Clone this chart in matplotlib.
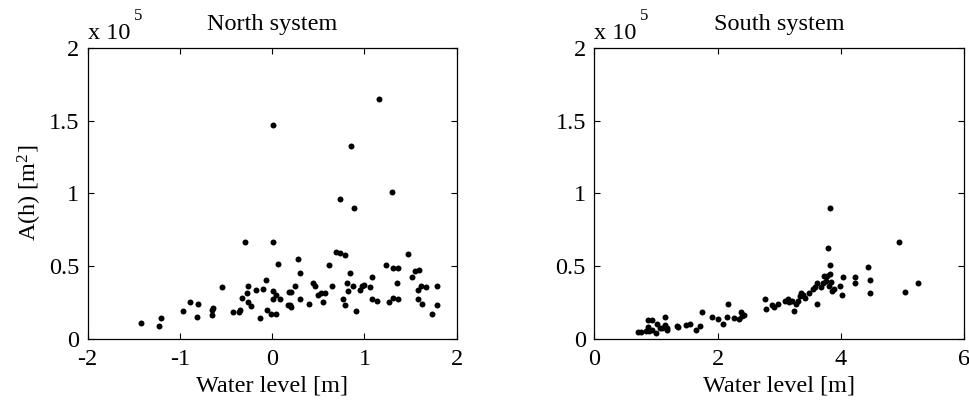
import matplotlib
matplotlib.use("Agg")
import matplotlib.pyplot as plt
from matplotlib.transforms import offset_copy

plt.rcParams["font.family"] = ["Liberation Serif", "DejaVu Serif"]
plt.rcParams["mathtext.fontset"] = "custom"
plt.rcParams["mathtext.rm"] = "Liberation Serif"
plt.rcParams["mathtext.it"] = "Liberation Serif"
plt.rcParams["axes.unicode_minus"] = False

# water level [m] and area A(h) in units of 1e5 m^2
north_h = [-1.425, -1.23, -1.20, -0.963, -0.894, -0.804, -0.818, -0.656, -0.645, -0.648,
           -0.544, -0.421, -0.356, -0.352, -0.323, -0.291, -0.276, -0.258, -0.258, -0.23,
           -0.175, -0.132, -0.099, -0.067, -0.052, -0.016, 0.013, 0.013, 0.013, 0.013,
           0.042, 0.042, 0.063, 0.089, 0.179, 0.20, 0.168, 0.19, 0.20, 0.251,
           0.28, 0.298, 0.302, 0.396, 0.443, 0.461, 0.493, 0.529, 0.555, 0.576,
           0.62, 0.652, 0.696, 0.732, 0.732, 0.764, 0.793, 0.793, 0.811, 0.822,
           0.84, 0.858, 0.876, 0.89, 0.905, 0.952, 0.974, 0.999, 1.064, 1.079,
           1.079, 1.133, 1.162, 1.238, 1.27, 1.303, 1.306, 1.306, 1.35, 1.368,
           1.368, 1.469, 1.512, 1.545, 1.577, 1.577, 1.592, 1.61, 1.624, 1.671,
           1.736, 1.783, 1.783]
north_a = [0.112, 0.092, 0.142, 0.192, 0.252, 0.243, 0.151, 0.162, 0.215, 0.200,
           0.355, 0.183, 0.183, 0.199, 0.284, 0.668, 0.313, 0.364, 0.254, 0.227,
           0.334, 0.142, 0.343, 0.405, 0.201, 0.172, 1.467, 0.668, 0.332, 0.272,
           0.304, 0.172, 0.515, 0.272, 0.323, 0.323, 0.236, 0.236, 0.222, 0.364,
           0.547, 0.272, 0.455, 0.243, 0.384, 0.364, 0.304, 0.316, 0.254, 0.313,
           0.506, 0.364, 0.597, 0.588, 0.961, 0.275, 0.574, 0.231, 0.384, 0.332,
           0.455, 1.325, 0.364, 0.899, 0.192, 0.334, 0.362, 0.373, 0.355, 0.426,
           0.275, 0.263, 1.650, 0.506, 0.252, 1.011, 0.490, 0.284, 0.384, 0.490,
           0.272, 0.586, 0.426, 0.465, 0.334, 0.272, 0.476, 0.364, 0.243, 0.355,
           0.172, 0.364, 0.231]

south_h = [0.714, 0.752, 0.839, 0.877, 0.93, 0.877, 0.893, 0.93, 1.0, 1.01,
           1.066, 1.10, 1.147, 1.152, 1.174, 1.185, 1.347, 1.363, 1.482, 1.553,
           1.645, 1.715, 1.742, 1.91, 2.007, 2.083, 2.148, 2.175, 2.267, 2.354,
           2.38, 2.39, 2.435, 2.77, 2.792, 2.878, 2.92, 2.987, 3.095, 3.138,
           3.154, 3.203, 3.241, 3.268, 3.306, 3.338, 3.36, 3.381, 3.419, 3.49,
           3.555, 3.587, 3.609, 3.609, 3.684, 3.717, 3.733, 3.755, 3.776, 3.793,
           3.809, 3.82, 3.825, 3.825, 3.841, 3.852, 3.896, 3.987, 4.014, 4.042,
           4.226, 4.226, 4.442, 4.469, 4.469, 4.945, 5.043, 5.259]
south_a = [0.046, 0.046, 0.053, 0.130, 0.130, 0.085, 0.057, 0.062, 0.043, 0.103,
           0.073, 0.073, 0.153, 0.096, 0.073, 0.062, 0.089, 0.085, 0.094, 0.103,
           0.062, 0.092, 0.183, 0.153, 0.135, 0.103, 0.153, 0.243, 0.142, 0.135,
           0.183, 0.158, 0.167, 0.275, 0.204, 0.236, 0.222, 0.243, 0.263, 0.275,
           0.252, 0.259, 0.192, 0.243, 0.259, 0.297, 0.313, 0.304, 0.284, 0.313,
           0.343, 0.355, 0.384, 0.243, 0.355, 0.384, 0.435, 0.398, 0.435, 0.627,
           0.364, 0.899, 0.506, 0.446, 0.394, 0.332, 0.346, 0.364, 0.304, 0.426,
           0.426, 0.384, 0.497, 0.405, 0.313, 0.668, 0.325, 0.384]

y_ticks = [0, 0.5, 1, 1.5, 2]
y_tick_labels = ["0", "0.5", "1", "1.5", "2"]

FS = 17.5

fig = plt.figure(figsize=(9.7, 4.01), dpi=100)
ax1 = fig.add_axes([0.0904, 0.1546, 0.3804, 0.7264])
ax2 = fig.add_axes([0.6127, 0.1546, 0.3811, 0.7264])

panels = [
    (ax1, north_h, north_a, "North system", (-2, 2), [-2, -1, 0, 1, 2]),
    (ax2, south_h, south_a, "South system", (0, 6), [0, 2, 4, 6]),
]
for ax, h, a, title, xlim, xticks in panels:
    ax.plot(h, a, "o", color="black", markersize=4.3, markeredgewidth=0)
    ax.set_xlim(*xlim)
    ax.set_ylim(0, 2)
    ax.set_xticks(xticks)
    ax.set_xticklabels([str(t) for t in xticks])
    ax.set_yticks(y_ticks)
    ax.set_yticklabels(y_tick_labels)
    ax.tick_params(direction="in", top=True, right=True, labelsize=FS,
                   length=4, width=0.8)
    ax.tick_params(axis="x", pad=7)
    ax.tick_params(axis="y", pad=6)
    for s in ax.spines.values():
        s.set_linewidth(0.9)
    ax.set_xlabel("Water level [m]", fontsize=FS, labelpad=4.5)
    ax.set_title(title, fontsize=FS, pad=13)
    # MATLAB style exponent label above the y axis
    ax.text(0.0, 1.0, "x 10", transform=offset_copy(ax.transAxes, fig=fig, x=0, y=3, units="points"),
            fontsize=FS, ha="left", va="bottom")
    ax.text(0.0, 1.0, "5", transform=offset_copy(ax.transAxes, fig=fig, x=33, y=17, units="points"),
            fontsize=12, ha="left", va="bottom")

ax1.set_ylabel(r"A(h) [m$^{2}$]", fontsize=FS, labelpad=3.5)

fig.savefig("out.png", dpi=100)
